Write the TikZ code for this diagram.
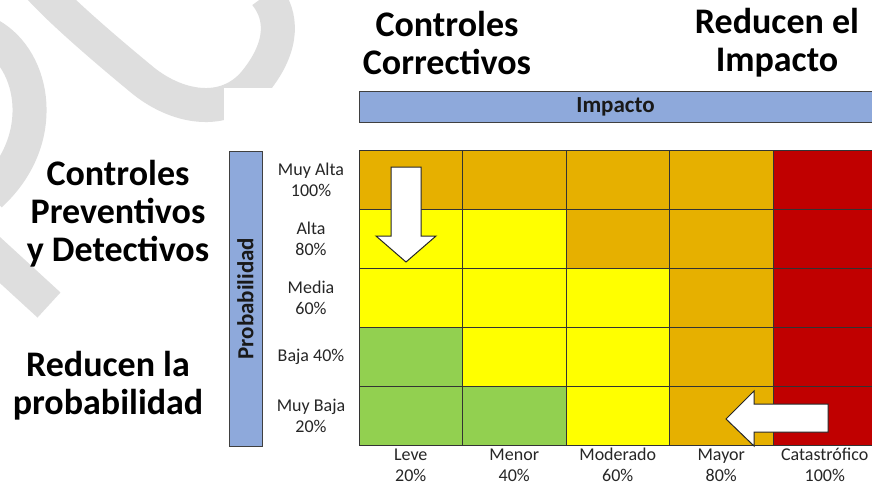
\documentclass[tikz,border=0pt]{standalone}
\usepackage{fontspec}
\setmainfont{Carlito}
\definecolor{orc}{HTML}{E6B000}
\definecolor{rdc}{HTML}{C00000}
\definecolor{yec}{HTML}{FFFF00}
\definecolor{grc}{HTML}{92D050}
\definecolor{blc}{HTML}{8EA9DB}
\definecolor{swc}{HTML}{DEDEDE}
\definecolor{labc}{HTML}{262626}
\begin{document}
\begin{tikzpicture}[x=1pt,y=-1pt,
  swoosh/.style={draw=swc, line width=34pt, line cap=butt},
  cell/.style={draw=black!80, line width=0.8pt, minimum width=103.5pt, minimum height=59pt, inner sep=0pt},
  barbox/.style={draw=black!75, line width=0.9pt, fill=blc},
  barlabel/.style={font=\fontsize{23}{25}\selectfont\bfseries, text=black!90},
  rowlab/.style={font=\fontsize{18}{21}\selectfont, text=labc, align=center, inner sep=0pt},
  collab/.style={rowlab, anchor=north},
  bigtext/.style={font=\fontsize{36}{38}\selectfont\bfseries, align=center, text=black},
  arrowshape/.style={draw=black!85, line width=1pt, fill=white, line join=miter}]
\useasboundingbox (0,0) rectangle (872,485);
\fill[white] (0,0) rectangle (872,485);
% background watermark
\draw[swoosh] (40,-12) .. controls (60,10) and (100,45) .. (140,78) .. controls (175,108) and (225,118) .. (255,82) .. controls (285,45) and (282,15) .. (266,-5);
\draw[swoosh] (-10,35) .. controls (35,60) and (50,140) .. (-10,195);
\draw[swoosh] (-23,239) -- (49,305);
% white panel
\fill[white] (224,88) rectangle (872,485);
% matrix cells
\foreach \rowcols [count=\r] in {{orc,orc,orc,orc,rdc},{yec,yec,orc,orc,rdc},{yec,yec,yec,orc,rdc},{grc,yec,yec,orc,rdc},{grc,grc,yec,orc,rdc}}{
  \foreach \cc [count=\c] in \rowcols {
    \node[cell, fill=\cc] (c\r\c) at ({359+(\c-0.5)*103.5},{150.5+(\r-0.5)*59}) {};
  }
}
% impact bar
\draw[barbox] (359,91) rectangle (880,122);
\node[barlabel] (imp) at (615.5,106.5) {Impacto};
% probability bar
\node[barbox, minimum width=295pt, minimum height=33pt, inner sep=0pt, rotate=90, barlabel] (prob) at (245.5,298.5) {Probabilidad};
% row labels
\node[rowlab] (r1) at (311,182) {\strut Muy Alta\\\strut 100\%};
\node[rowlab] (r2) at (311,241) {\strut Alta\\\strut 80\%};
\node[rowlab] (r3) at (311,300) {\strut Media\\\strut 60\%};
\node[rowlab] (r4) at (311,357) {\strut Baja 40\%};
\node[rowlab] (r5) at (311,418) {\strut Muy Baja\\\strut 20\%};
% column labels
\node[collab] (k1) at (410.75,446) {\strut Leve\\20\%};
\node[collab] (k2) at (514.25,446) {\strut Menor\\40\%};
\node[collab] (k3) at (617.75,446) {\strut Moderado\\60\%};
\node[collab] (k4) at (721.25,446) {\strut Mayor\\80\%};
\node[collab] (k5) at (824.75,446) {\strut Catastrófico\\100\%};
% arrows
\draw[arrowshape] (391,167) -- (421,167) -- (421,236) -- (436,236) -- (406,262) -- (376,236) -- (391,236) -- cycle;
\draw[arrowshape] (828,404) -- (828,432) -- (754,432) -- (754,446) -- (726,419) -- (754,391) -- (754,404) -- cycle;
% big texts
\node[bigtext] (t1) at (447,42.5) {Controles\\Correctivos};
\node[bigtext] (t2) at (777,43) {Reducen el\\Impacto};
\node[bigtext] (t3) at (118,214) {Controles\\Preventivos\\y Detectivos};
\node[bigtext] (t4) at (108,386) {Reducen la\\probabilidad};
\end{tikzpicture}
\end{document}
